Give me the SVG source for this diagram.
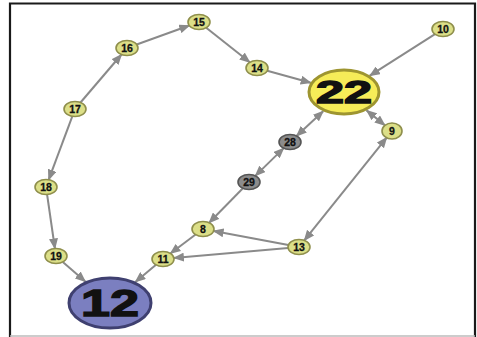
<svg xmlns="http://www.w3.org/2000/svg" width="477" height="337" viewBox="0 0 477 337">
<style>
.edge{stroke:#8a8a8a;stroke-width:2;fill:none}
.sn{fill:#dcdf88;stroke:#8f8f4c;stroke-width:1.6}
.gn{fill:#8c8c8c;stroke:#555;stroke-width:1.6}
.lb{font-family:"Liberation Sans",Arial,sans-serif;font-weight:bold;font-size:10.5px;fill:#111;stroke:#111;stroke-width:0.3;text-anchor:middle}
.big{font-family:"Liberation Sans",Arial,sans-serif;font-weight:bold;fill:#111;stroke:#111;stroke-width:1.4;text-anchor:middle}
</style>
<defs>
<marker id="ah" markerUnits="userSpaceOnUse" markerWidth="11" markerHeight="9" refX="10" refY="4.5" orient="auto-start-reverse" viewBox="0 0 11 9">
<path d="M0,0 L11,4.5 L0,9 z" fill="#8a8a8a"/>
</marker>
</defs>
<rect x="0" y="0" width="477" height="337" fill="#fff"/>
<path d="M10,337 V3.5 H475 V337" fill="none" stroke="#1a1a1a" stroke-width="2.2"/>
<line x1="10" y1="336" x2="475" y2="336" stroke="#bbb" stroke-width="1.5"/>
<g id="connectors">
<line class="edge" x1="136.7" y1="44.5" x2="189.3" y2="25.5" marker-end="url(#ah)"/>
<line class="edge" x1="80.5" y1="102.5" x2="121.5" y2="54.5" marker-end="url(#ah)"/>
<line class="edge" x1="206.2" y1="27.7" x2="249.8" y2="62.3" marker-end="url(#ah)"/>
<line class="edge" x1="267.2" y1="70.8" x2="310.7" y2="82.8" marker-end="url(#ah)"/>
<line class="edge" x1="435" y1="34.1" x2="369.8" y2="75.6" marker-end="url(#ah)"/>
<line class="edge" x1="72.3" y1="116.3" x2="48.7" y2="179.7" marker-end="url(#ah)"/>
<line class="edge" x1="47.1" y1="194.5" x2="54.9" y2="248.5" marker-end="url(#ah)"/>
<line class="edge" x1="62.8" y1="261.9" x2="85.3" y2="281.5" marker-end="url(#ah)"/>
<line class="edge" x1="156" y1="264.8" x2="135.4" y2="281.9" marker-end="url(#ah)"/>
<line class="edge" x1="195.6" y1="234.5" x2="170.4" y2="253.5" marker-end="url(#ah)"/>
<line class="edge" x1="288.4" y1="245" x2="213.6" y2="231" marker-end="url(#ah)"/>
<line class="edge" x1="288.1" y1="248" x2="173.9" y2="258" marker-end="url(#ah)"/>
<line class="edge" x1="304.3" y1="240.4" x2="386.7" y2="137.6" marker-start="url(#ah)" marker-end="url(#ah)"/>
<line class="edge" x1="366.6" y1="110.4" x2="384.9" y2="125.3" marker-start="url(#ah)" marker-end="url(#ah)"/>
<line class="edge" x1="323.2" y1="111.2" x2="296.5" y2="136" marker-start="url(#ah)" marker-end="url(#ah)"/>
<line class="edge" x1="283.7" y1="148.1" x2="255.3" y2="175.9" marker-start="url(#ah)" marker-end="url(#ah)"/>
<line class="edge" x1="242.9" y1="188.2" x2="209.1" y2="222.8" marker-end="url(#ah)"/>
</g>
<g id="n15"><ellipse class="sn" cx="199" cy="22" rx="11" ry="7.5"/><text class="lb" x="199" y="25.7">15</text></g>
<g id="n16"><ellipse class="sn" cx="127" cy="48" rx="11" ry="7.5"/><text class="lb" x="127" y="51.7">16</text></g>
<g id="n17"><ellipse class="sn" cx="75" cy="109" rx="11" ry="7.5"/><text class="lb" x="75" y="112.7">17</text></g>
<g id="n18"><ellipse class="sn" cx="46" cy="187" rx="11" ry="7.5"/><text class="lb" x="46" y="190.7">18</text></g>
<g id="n19"><ellipse class="sn" cx="56" cy="256" rx="11" ry="7.5"/><text class="lb" x="56" y="259.7">19</text></g>
<g id="n11"><ellipse class="sn" cx="163" cy="259" rx="11" ry="7.5"/><text class="lb" x="163" y="262.7">11</text></g>
<g id="n8"><ellipse class="sn" cx="203" cy="229" rx="11" ry="7.5"/><text class="lb" x="203" y="232.7">8</text></g>
<g id="n13"><ellipse class="sn" cx="299" cy="247" rx="11" ry="7.5"/><text class="lb" x="299" y="250.7">13</text></g>
<g id="n29"><ellipse class="gn" cx="249" cy="182" rx="11" ry="7.5"/><text class="lb" x="249" y="185.7">29</text></g>
<g id="n28"><ellipse class="gn" cx="290" cy="142" rx="11" ry="7.5"/><text class="lb" x="290" y="145.7">28</text></g>
<g id="n9"><ellipse class="sn" cx="392" cy="131" rx="10" ry="8"/><text class="lb" x="392" y="134.7">9</text></g>
<g id="n14"><ellipse class="sn" cx="257" cy="68" rx="11" ry="7.5"/><text class="lb" x="257" y="71.7">14</text></g>
<g id="n10"><ellipse class="sn" cx="443" cy="29" rx="11" ry="7.5"/><text class="lb" x="443" y="32.7">10</text></g>
<g id="n22"><ellipse cx="344" cy="92" rx="35" ry="22" fill="#f6ec58" stroke="#9e9530" stroke-width="3"/><text class="big" x="344" y="103" font-size="31" textLength="56" lengthAdjust="spacingAndGlyphs">22</text></g>
<g id="n12"><ellipse cx="110" cy="303" rx="41" ry="25" fill="#7b7fc0" stroke="#3f4070" stroke-width="3"/><text class="big" x="110" y="316" font-size="37" textLength="58" lengthAdjust="spacingAndGlyphs">12</text></g>
</svg>
